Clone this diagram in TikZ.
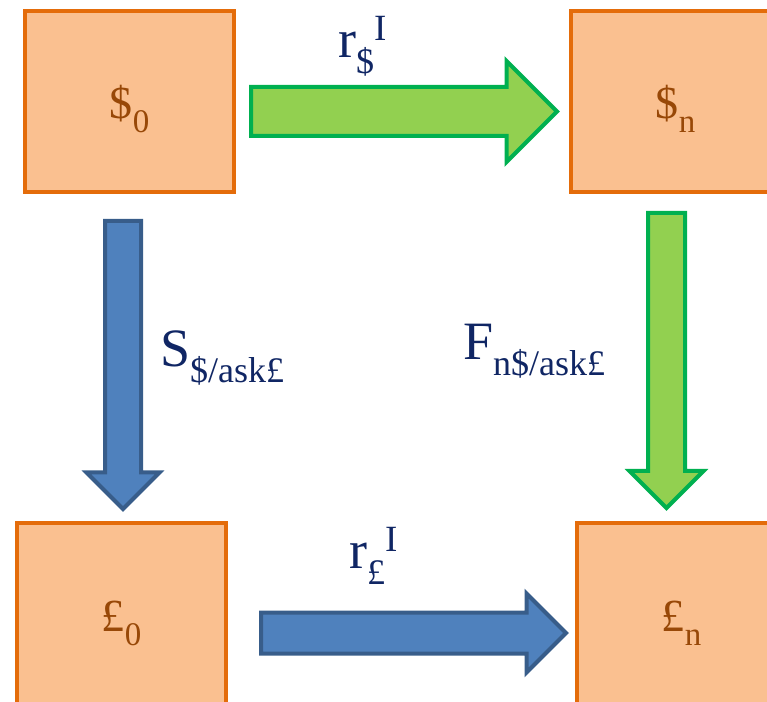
\documentclass[tikz,border=0pt]{standalone}
\usepackage{fontspec}
\setmainfont{Liberation Serif}
\usetikzlibrary{shapes.arrows, positioning}
\definecolor{boxfill}  {RGB}{250, 192, 144}
\definecolor{boxline}  {RGB}{228, 108, 10}
\definecolor{boxtext}  {RGB}{152, 72, 7}
\definecolor{grnfill}  {RGB}{146, 208, 80}
\definecolor{grnline}  {RGB}{0, 176, 80}
\definecolor{bluefill} {RGB}{79, 129, 189}
\definecolor{blueline} {RGB}{56, 93, 138}
\definecolor{lbltext}  {RGB}{16, 38, 100}
\newcommand{\boxsub}[1]{\raisebox{-14pt}{\fontsize{33}{36}\selectfont #1}}
\newcommand{\lblsub}[1]{\raisebox{-16pt}{\fontsize{36}{40}\selectfont #1}}
\newcommand{\lblsup}[1]{\raisebox{17pt}{\fontsize{37}{40}\selectfont #1}}
\tikzset{
	cashbox/.style={
		rectangle, minimum width=209pt, minimum height=181pt,
		fill=boxfill, draw=boxline, line width=4pt,
		text=boxtext, font=\fontsize{46}{50}\selectfont, inner sep=0pt,
		text height=45pt, text depth=10pt
	},
	fatarrow/.style={
		single arrow, anchor=tail, line width=4pt,
		single arrow head indent=0pt
	},
	grnarrow/.style={fatarrow, fill=grnfill, draw=grnline},
	bluarrow/.style={fatarrow, fill=bluefill, draw=blueline},
	lbl/.style={
		anchor=base west, inner sep=0pt, text=lbltext,
		font=\fontsize{54}{60}\selectfont
	}
}
\begin{document}
\begin{tikzpicture}[x=1pt, y=1pt]
		\useasboundingbox (0,0) rectangle (767,701);
		\clip (0,0) rectangle (767,701);
		
		%% ═══════════════════════════════
		%%  BOXES
		%% ═══════════════════════════════
		\node[cashbox] (usd0) at (129.5,599.5) {\$\boxsub{0}};
		\node[cashbox] (usdn) at (675.5,599.5) {\$\boxsub{n}};
		\node[cashbox] (gbp0) at (121.5,87.5)  {£\boxsub{0}};
		\node[cashbox] (gbpn) at (681.5,87.5)  {£\boxsub{n}};
		
		%% ═══════════════════════════════
		%%  BLOCK ARROWS
		%% ═══════════════════════════════
		% $0 → $n
		\node[grnarrow, minimum height=306pt, minimum width=97pt,
		inner ysep=22.5pt, single arrow head extend=26pt] (usdrate) at (249,589.5) {};
		% $0 → £0
		\node[bluarrow, rotate=-90, minimum height=288pt, minimum width=69pt,
		inner ysep=16pt, single arrow head extend=18.5pt] (spot) at (123,482) {};
		% $n → £n
		\node[grnarrow, rotate=-90, minimum height=295pt, minimum width=70pt,
		inner ysep=16.5pt, single arrow head extend=18.5pt] (fwd) at (666.5,490) {};
		% £0 → £n
		\node[bluarrow, minimum height=305pt, minimum width=76pt,
		inner ysep=18.5pt, single arrow head extend=19pt] (gbprate) at (259,68) {};
		
		%% ═══════════════════════════════
		%%  LABELS
		%% ═══════════════════════════════
		\node[lbl] (usdratelbl) at (338,643) {r\lblsub{\$}\lblsup{I}};
		\node[lbl] (gbpratelbl) at (349,133) {r\lblsub{£}\lblsup{I}};
		\node[lbl] (spotlbl)    at (160,334) {S\lblsub{\$/ask£}};
		\node[lbl] (fwdlbl)     at (463,341) {F\lblsub{n\$/ask£}};
	\end{tikzpicture}
\end{document}
